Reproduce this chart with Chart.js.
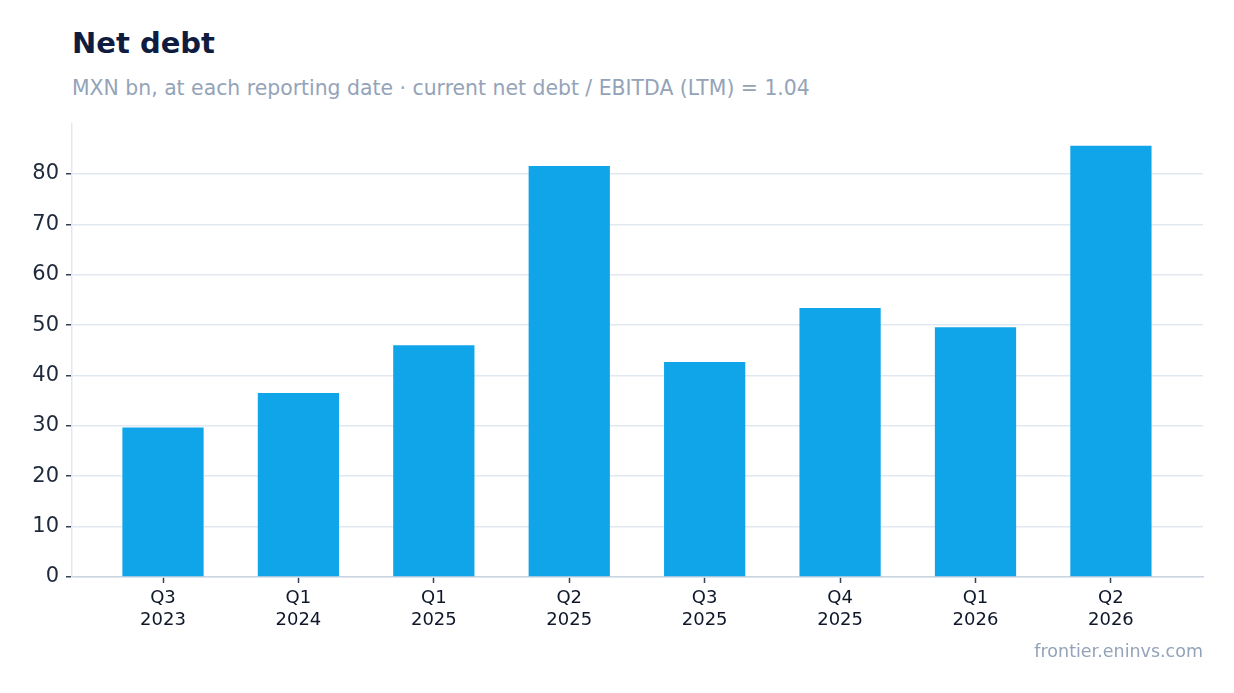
<!DOCTYPE html>
<html>
<head>
<meta charset="utf-8">
<script src="https://cdn.jsdelivr.net/npm/chart.js@4"></script>
<style>
  body { margin: 0; width: 1234px; height: 693px; background: #fff; font-family: "DejaVu Sans", sans-serif; position: relative; overflow: hidden; }
  #title { position: absolute; left: 72px; top: 26px; font-size: 29px; font-weight: bold; color: #0f1c3f; }
  #subtitle { position: absolute; left: 72px; top: 76px; font-size: 20.4px; color: #94a3b8; }
  #footer { position: absolute; right: 31px; top: 641px; font-size: 17.5px; color: #94a3b8; }
  #wrap { position: absolute; left: 0; top: 104px; width: 1234px; height: 546px; }
</style>
</head>
<body>
<div id="title">Net debt</div>
<div id="subtitle">MXN bn, at each reporting date · current net debt / EBITDA (LTM) = 1.04</div>
<div id="wrap"><canvas id="chart"></canvas></div>
<div id="footer">frontier.eninvs.com</div>
<script>
const quarters = ["Q3", "Q1", "Q1", "Q2", "Q3", "Q4", "Q1", "Q2"];
const years = ["2023", "2024", "2025", "2025", "2025", "2025", "2026", "2026"];
const netDebt = [29.7, 36.5, 46.0, 81.6, 42.7, 53.4, 49.6, 85.6];

// bars sit on a numeric x axis (0..7) so the plot can keep side margins
const points = netDebt.map((v, i) => ({ x: i, y: v }));

new Chart(document.getElementById("chart"), {
    type: "bar",
    data: {
        datasets: [{
            label: "Net debt",
            data: points,
            backgroundColor: "#10a5e8",
            categoryPercentage: 1,
            barPercentage: 0.6
        }]
    },
    options: {
        responsive: true,
        maintainAspectRatio: false,
        animation: false,
        layout: { padding: { top: 8, right: 31, left: 0, bottom: 0 } },
        plugins: {
            legend: { display: false },
            tooltip: { enabled: false }
        },
        scales: {
            x: {
                type: "linear",
                min: -0.672,
                max: 7.68,
                offset: false,
                afterFit: s => { s.height = 73; },
                afterBuildTicks: s => {
                    s.ticks = quarters.map((q, i) => ({ value: i }));
                },
                border: { color: "#cbd5e1", width: 1.5 },
                grid: { drawOnChartArea: false, offset: false, tickLength: 6, tickColor: "#334155", tickWidth: 1.5 },
                ticks: {
                    color: "#0f172a",
                    padding: 5,
                    maxRotation: 0,
                    autoSkip: false,
                    font: { family: "DejaVu Sans", size: 18, lineHeight: 1.2 },
                    callback: v => [quarters[v], years[v]]
                }
            },
            y: {
                min: 0,
                max: 90,
                afterFit: s => { s.width = 72; },
                afterBuildTicks: s => { s.ticks = s.ticks.filter(t => t.value < 90); },
                border: { color: "#e2e8f0", width: 1.5 },
                grid: { color: "#e2e8f0", lineWidth: 1.5, tickLength: 6, tickColor: "#334155", tickWidth: 1.5 },
                ticks: {
                    stepSize: 10,
                    color: "#1e293b",
                    padding: 7,
                    font: { family: "DejaVu Sans", size: 21 }
                }
            }
        }
    }
});
</script>
</body>
</html>
